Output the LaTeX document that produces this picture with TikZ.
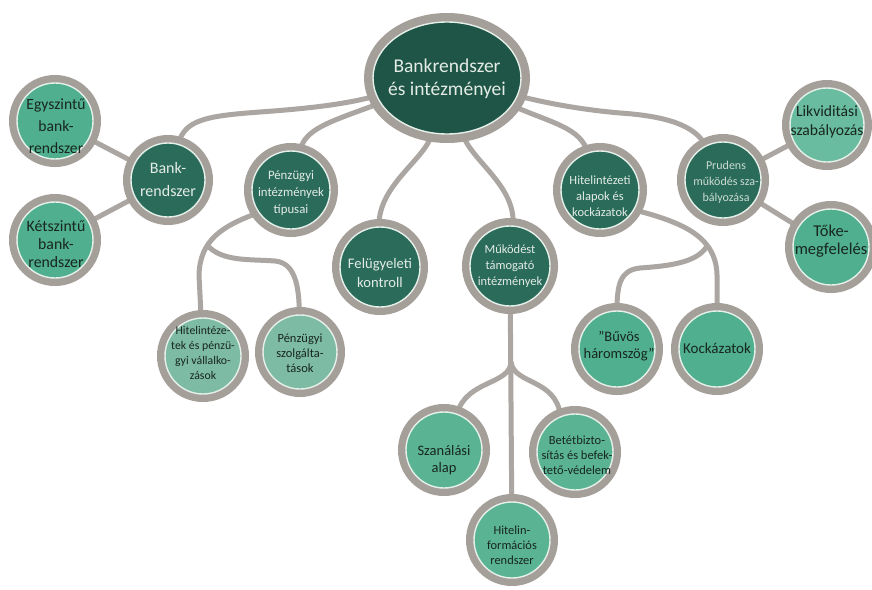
\documentclass[tikz,border=0pt]{standalone}
\usepackage{fontspec}
\setmainfont{Carlito}
\usetikzlibrary{shapes.geometric,backgrounds}

\definecolor{ringgray}{HTML}{A59F9A}
\definecolor{wiregray}{HTML}{ABA6A1}
\definecolor{deep}{HTML}{1F5546}
\definecolor{mid}{HTML}{2A6B5A}
\definecolor{leaf}{HTML}{4FAF8E}
\definecolor{pale}{HTML}{7DBBA4}
\definecolor{soft}{HTML}{5AB494}
\definecolor{liq}{HTML}{69BC9F}
\definecolor{lightink}{HTML}{E4ECE6}
\definecolor{dimink}{HTML}{CCDCD2}
\definecolor{darkink}{HTML}{18261F}
\definecolor{rim}{HTML}{E6F0EA}

\tikzset{
  bubble/.style={circle, inner sep=0pt, minimum size=#1, draw=rim, line width=1.4pt,
    preaction={draw=ringgray, line width=16pt}},
  hub/.style={ellipse, inner sep=0pt, minimum width=148pt, minimum height=112pt,
    fill=deep, draw=rim, line width=1.4pt, preaction={draw=ringgray, line width=18pt}},
  darktxt/.style={align=center, text=lightink, inner sep=0pt},
  lighttxt/.style={align=center, text=darkink, inner sep=0pt},
  link/.style={draw=wiregray, line width=5pt},
  fs/.style 2 args={font=\fontsize{#1}{#2}\selectfont},
}

\begin{document}
\begin{tikzpicture}[x=1pt, y=-1pt]
\useasboundingbox (0,0) rectangle (872,589);

% central hub
\node[hub] (top) at (447,78) {};
\node[darktxt, fs={19.5}{23}] (top-t) at (447,79) {Bankrendszer\\és intézményei};

% first level
\node[bubble=74pt, fill=mid] (bank) at (168,180) {};
\node[darktxt, fs={16}{23}] (bank-t) at (168,180) {Bank-\\rendszer};

\node[bubble=78pt, fill=mid] (pit) at (291,190) {};
\node[darktxt, fs={12.8}{17}] (pit-t) at (291,193) {Pénzügyi\\intézmények\\típusai};

\node[bubble=80pt, fill=mid] (fk) at (380,267) {};
\node[darktxt, fs={14.6}{19}] (fk-t) at (380,273) {Felügyeleti\\kontroll};

\node[bubble=80pt, fill=mid] (mt) at (510,266) {};
\node[darktxt, fs={12.5}{16}] (mt-t) at (510,266) {Működést\\támogató\\intézmények};

\node[bubble=78pt, fill=mid] (hak) at (600,190) {};
\node[darktxt, fs={12.5}{16}] (hak-t) at (600,196) {Hitelintézeti\\alapok és\\kockázatok};

\node[bubble=76pt, fill=mid] (pr) at (723,180) {};
\node[align=center, text=dimink, inner sep=0pt, fs={12}{16}] (pr-t) at (726,182) {Prudens\\működés sza-\\bályozása};

% leaves
\node[bubble=76pt, fill=leaf] (egy) at (55,121) {};
\node[lighttxt, fs={15.6}{22}] (egy-t) at (56,126) {Egyszintű\\bank-\\rendszer};

\node[bubble=76pt, fill=leaf] (ket) at (55,240) {};
\node[lighttxt, fs={15.8}{18}] (ket-t) at (56,244) {Kétszintű\\bank-\\rendszer};

\node[bubble=76pt, fill=pale] (hit) at (203,356) {};
\node[lighttxt, fs={11.8}{15}] (hit-t) at (203,353) {Hitelintéze-\\tek és pénzü-\\gyi vállalko-\\zások};

\node[bubble=74pt, fill=pale] (psz) at (300,352) {};
\node[lighttxt, fs={12.5}{15}] (psz-t) at (300,353) {Pénzügyi\\szolgálta-\\tások};

\node[bubble=76pt, fill=leaf] (buv) at (617,349) {};
\node[lighttxt, fs={14.5}{17}] (buv-t) at (619,346) {”Bűvös\\háromszög”};

\node[bubble=76pt, fill=leaf] (kock) at (717,349) {};
\node[lighttxt, fs={15}{18}] (kock-t) at (717,348) {Kockázatok};

\node[bubble=74pt, fill=liq] (liqn) at (827,125) {};
\node[lighttxt, fs={15.6}{19}] (liqn-t) at (827,122) {Likviditási\\szabályozás};

\node[bubble=76pt, fill=leaf] (toke) at (831,247) {};
\node[lighttxt, fs={16.5}{18.5}] (toke-t) at (831,241) {Tőke-\\megfelelés};

\node[bubble=76pt, fill=soft] (szan) at (444,450) {};
\node[lighttxt, fs={14.5}{16.5}] (szan-t) at (444,460) {Szanálási\\alap};

\node[bubble=76pt, fill=soft] (bet) at (575,452) {};
\node[lighttxt, fs={12.5}{15}] (bet-t) at (577,455) {Betétbizto-\\sítás és befek-\\tető-védelem};

\node[bubble=76pt, fill=soft] (hinf) at (512,540) {};
\node[lighttxt, fs={12.4}{15}] (hinf-t) at (512,545) {Hitelin-\\formációs\\rendszer};

% connectors behind the bubbles
\begin{scope}[on background layer]
\fill[white] (0,0) rectangle (872,589);

\draw[link] (bank) .. controls (185,120) and (205,116) .. (260,112)
  .. controls (315,108) and (345,104) .. (top);
\draw[link] (pit) .. controls (305,128) and (330,122) .. (top);
\draw[link] (fk) .. controls (378,185) and (425,160) .. (top);
\draw[link] (mt) .. controls (516,185) and (470,160) .. (top);
\draw[link] (hak) .. controls (580,128) and (555,124) .. (top);
\draw[link] (pr) .. controls (695,125) and (665,116) .. (620,113)
  .. controls (585,110) and (550,104) .. (top);

\draw[link] (bank) -- (egy);
\draw[link] (bank) -- (ket);
\draw[link] (pr) -- (liqn);
\draw[link] (pr) -- (toke);

\coordinate (pitfork) at (207,245);
\draw[link] (pit.215) .. controls (222,226) and (200,240) .. (199,275) -- (hit);
\draw[link] (pitfork) .. controls (222,262) and (250,259) .. (275,261)
  .. controls (295,263) and (299,285) .. (psz);

\coordinate (hakfork) at (707,246);
\draw[link] (hak.330) .. controls (680,222) and (716,235) .. (717,275) -- (kock);
\draw[link] (hakfork) .. controls (697,263) and (668,266) .. (640,268)
  .. controls (620,270) and (617,285) .. (buv);

\draw[link] (mt) -- (hinf);
\coordinate (mtfork) at (511,362);
\draw[link] (mtfork) .. controls (510,385) and (466,380) .. (szan.70);
\draw[link] (mtfork) .. controls (514,385) and (556,378) .. (bet.112);
\end{scope}
\end{tikzpicture}
\end{document}
